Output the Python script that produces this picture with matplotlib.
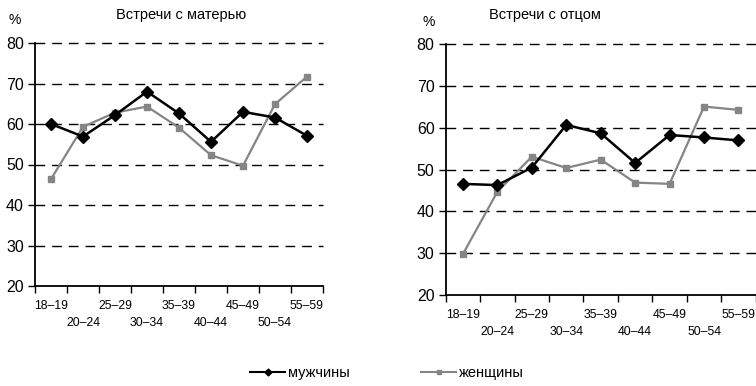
import matplotlib
matplotlib.use("Agg")
import matplotlib.pyplot as plt
from matplotlib.lines import Line2D

plt.rcParams['font.family'] = ['Liberation Sans', 'DejaVu Sans']

# возрастные группы
vozrast = ["18–19", "20–24", "25–29", "30–34", "35–39",
           "40–44", "45–49", "50–54", "55–59"]

# встречи с матерью, %
mat_muzh = [60.0, 56.9, 62.2, 68.0, 62.6, 55.6, 63.0, 61.6, 57.1]
mat_zhen = [46.4, 59.3, 62.8, 64.3, 59.1, 52.3, 49.7, 64.9, 71.7]

# встречи с отцом, %
otec_muzh = [46.6, 46.3, 50.5, 60.7, 58.7, 51.6, 58.3, 57.7, 57.0]
otec_zhen = [29.8, 44.7, 53.1, 50.4, 52.4, 46.9, 46.6, 65.1, 64.3]

seryi = "#858585"

fig = plt.figure(figsize=(7.56, 3.86), dpi=100)
ax1 = fig.add_axes([35/756, 1-286/386, 288/756, 243/386])
ax2 = fig.add_axes([445.7/756, 1-295/386, 310/756, 250.7/386])


def risuem(ax, muzh, zhen):
    x = list(range(len(vozrast)))
    ax.set_xlim(-0.5, len(vozrast) - 0.5)
    ax.set_ylim(20, 80)
    for yy in [30, 40, 50, 60, 70, 80]:
        ax.axhline(yy, color="black", lw=1.0, dashes=(7, 5), zorder=1, clip_on=False)
    ax.plot(x, zhen, color=seryi, lw=1.6, marker="s", ms=4.5, zorder=3)
    ax.plot(x, muzh, color="black", lw=1.8, marker="D", ms=6.5, zorder=4)
    ax.spines["top"].set_visible(False)
    ax.spines["right"].set_visible(False)
    ax.spines["left"].set_linewidth(1.3)
    ax.spines["bottom"].set_linewidth(1.3)
    ax.set_yticks([20, 30, 40, 50, 60, 70, 80])
    ax.tick_params(axis="y", labelsize=11.5, length=5, width=1.0, pad=3)
    ax.set_xticks(x)
    podpisi = [v if i % 2 == 0 else "\n" + v for i, v in enumerate(vozrast)]
    ax.set_xticklabels(podpisi, fontsize=8.8, linespacing=1.6)
    ax.tick_params(axis="x", which="major", length=0, pad=10)
    ax.set_xticks([i - 0.5 for i in range(len(vozrast) + 1)], minor=True)
    ax.tick_params(axis="x", which="minor", length=5, width=1.0)


risuem(ax1, mat_muzh, mat_zhen)
risuem(ax2, otec_muzh, otec_zhen)

fig.text(181/756, 1-15/386, "Встречи с матерью", ha="center", va="center", fontsize=10.5)
fig.text(545/756, 1-15/386, "Встречи с отцом", ha="center", va="center", fontsize=10.5)
fig.text(15/756, 1-20/386, "%", ha="center", va="center", fontsize=10)
fig.text(429/756, 1-22/386, "%", ha="center", va="center", fontsize=10)

r_muzh = Line2D([], [], color="black", lw=1.5, marker="D", ms=3.5)
r_zhen = Line2D([], [], color=seryi, lw=1.5, marker="s", ms=3.5)
fig.legend([r_muzh], ["мужчины"], loc="center left",
           bbox_to_anchor=(237/756, 1-373/386), frameon=False,
           fontsize=10.5, handlelength=2.4, handletextpad=0.2)
fig.legend([r_zhen], ["женщины"], loc="center left",
           bbox_to_anchor=(408/756, 1-373/386), frameon=False,
           fontsize=10.5, handlelength=2.4, handletextpad=0.2)

fig.savefig("out.png", dpi=100)
